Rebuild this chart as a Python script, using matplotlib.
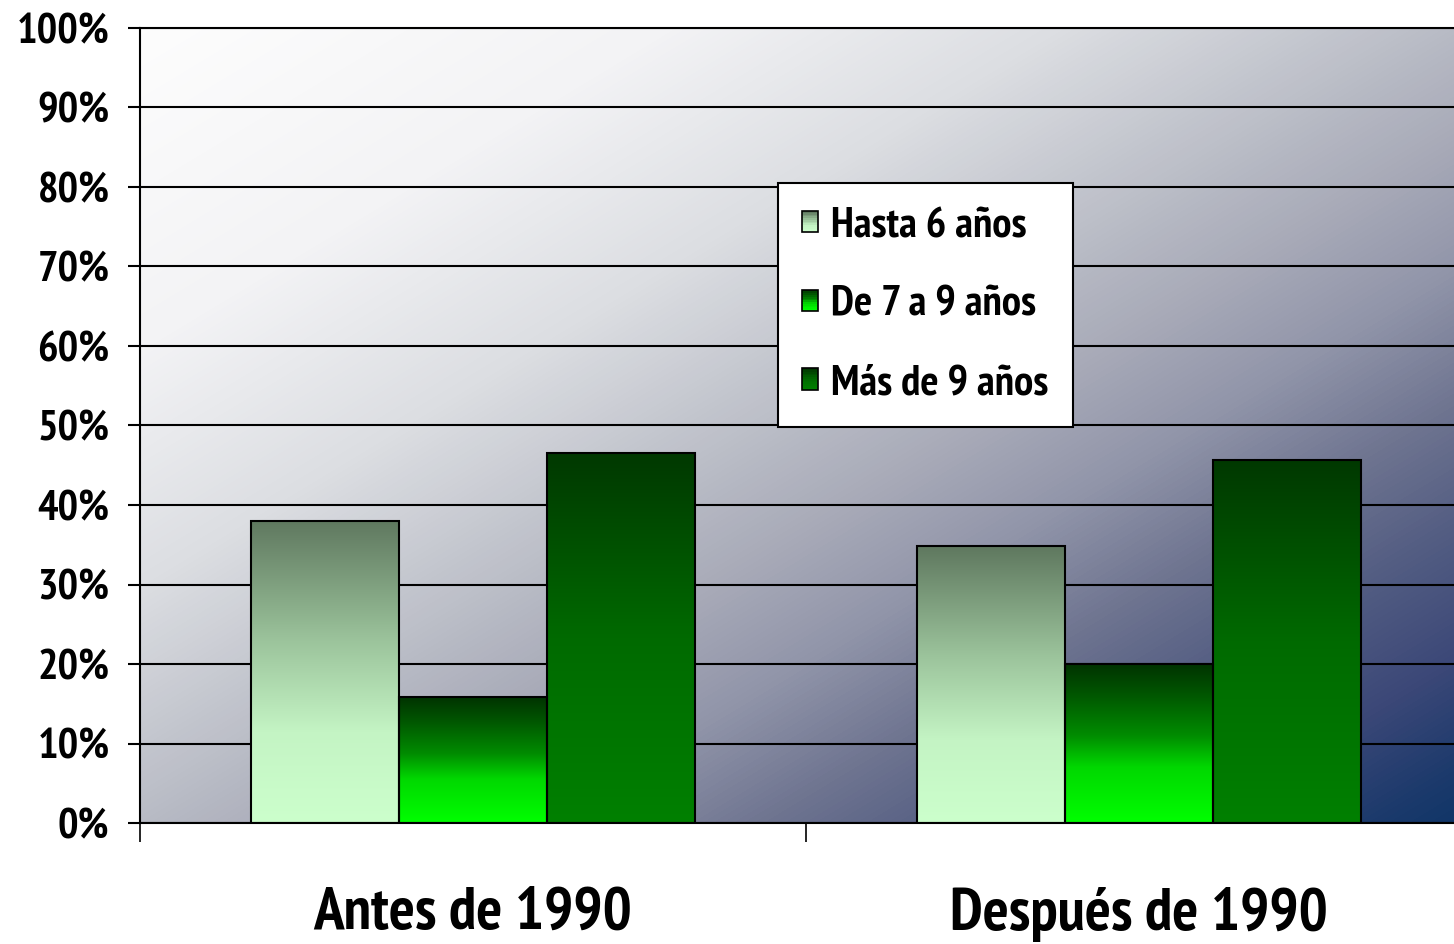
import numpy as np
import matplotlib
matplotlib.use("Agg")
import matplotlib.pyplot as plt
from matplotlib.colors import LinearSegmentedColormap
from matplotlib.patches import Rectangle, Patch
from matplotlib.legend_handler import HandlerBase

plt.rcParams['font.family'] = ['PT Sans Narrow', 'IBM Plex Sans Condensed', 'Open Sans Condensed', 'DejaVu Sans']
plt.rcParams['font.weight'] = 'bold'

# ---- data ----
categories = ['Antes de 1990', 'Después de 1990']
series_names = ['Hasta 6 años', 'De 7 a 9 años', 'Más de 9 años']
hasta_6 = [38.0, 34.8]
de_7_a_9 = [15.8, 20.0]
mas_de_9 = [46.6, 45.7]
y_ticks = [0, 10, 20, 30, 40, 50, 60, 70, 80, 90, 100]
y_tick_labels = [f'{v}%' for v in y_ticks]

# ---- styles ----
cmaps = [
    LinearSegmentedColormap.from_list('h6', [(0, '#ccffcc'), (0.3, '#c4f4c4'), (0.6, '#9cc49c'), (1.0, '#5f785f')]),
    LinearSegmentedColormap.from_list('d79', [(0, '#00ff00'), (0.35, '#00d800'), (0.55, '#008c00'), (0.8, '#005800'), (1.0, '#003300')]),
    LinearSegmentedColormap.from_list('m9', [(0, '#008000'), (0.5, '#006a00'), (1.0, '#003800')]),
]
bg_cmap = LinearSegmentedColormap.from_list('bg', [(0, '#fdfdfd'), (0.2, '#f3f3f5'), (0.35, '#dcdee2'),
                                                   (0.5, '#b8bbc5'), (0.57, '#a8aab8'), (0.65, '#9296aa'),
                                                   (0.74, '#6e7490'), (0.82, '#525c82'), (0.9, '#3c4878'),
                                                   (0.97, '#1c3a6c'), (1.0, '#123668')])

W, H = 1454, 944
fig = plt.figure(figsize=(W / 100, H / 100), dpi=100)
ax_left, ax_right, ax_top, ax_bottom = 140, 1472, 28, 823
ax = fig.add_axes([ax_left / W, 1 - ax_bottom / H, (ax_right - ax_left) / W, (ax_bottom - ax_top) / H])

# background gradient (row 0 = top)
ny, nx = 200, 300
u = np.linspace(0, 1, nx)[None, :] * (ax_right - ax_left) / (W - ax_left)
v = np.linspace(0, 1, ny)[:, None]
t = np.clip(0.5 * u + 0.5 * v, 0, 1)
ax.imshow(t, cmap=bg_cmap, vmin=0, vmax=1, extent=(0, 1, 0, 1), transform=ax.transAxes,
          origin='upper', aspect='auto', zorder=0, interpolation='bilinear')

x = np.arange(len(categories))
bw = 0.222
all_series = [hasta_6, de_7_a_9, mas_de_9]
grad = np.linspace(0, 1, 256)[:, None]
for i, (vals, cm) in enumerate(zip(all_series, cmaps)):
    bars = ax.bar(x + (i - 1) * bw, vals, width=bw, facecolor='none', edgecolor='black',
                  linewidth=1.5, zorder=3)
    for b in bars:
        x0, w_, h_ = b.get_x(), b.get_width(), b.get_height()
        im = ax.imshow(grad, cmap=cm, vmin=0, vmax=1, extent=(x0, x0 + w_, 0, h_),
                       origin='lower', aspect='auto', zorder=2, interpolation='bilinear')
        im.set_clip_path(b)

ax.set_xlim(-0.5, 1.5)
ax.set_ylim(0, 100)
ax.set_aspect('auto')

ax.set_yticks(y_ticks)
ax.set_yticklabels(y_tick_labels, fontsize=31, fontweight='bold')
ax.yaxis.grid(True, color='black', linewidth=1.5, zorder=1)
ax.set_axisbelow(True)
ax.tick_params(axis='y', length=9, width=1.5, pad=13, direction='out')

ax.set_xticks([-0.5, 0.5, 1.5])
ax.set_xticklabels(['', '', ''])
ax.tick_params(axis='x', which='major', length=14, width=1.2, direction='out')
ax.set_xticks(x, minor=True)
ax.set_xticklabels(categories, minor=True, fontsize=44, fontweight='bold')
ax.tick_params(axis='x', which='minor', length=0, pad=46)

for s in ['left', 'bottom', 'top']:
    ax.spines[s].set_linewidth(1.5)
ax.spines['right'].set_visible(False)


class GradHandler(HandlerBase):
    def __init__(self, cmap):
        super().__init__()
        self.cmap = cmap

    def create_artists(self, legend, orig_handle, xdescent, ydescent, width, height, fontsize, trans):
        arts = []
        n = 12
        for k in range(n):
            arts.append(Rectangle((-xdescent, -ydescent + k * height / n), width, height / n,
                                  facecolor=self.cmap(k / (n - 1)), linewidth=0, transform=trans))
        arts.append(Rectangle((-xdescent, -ydescent), width, height, fill=False,
                              edgecolor='black', linewidth=1.2, transform=trans))
        return arts


proxies = [Patch(label=n) for n in series_names]
leg = ax.legend(proxies, series_names, handler_map={p: GradHandler(c) for p, c in zip(proxies, cmaps)},
                loc='upper left', bbox_to_anchor=(778 / W, 1 - 183 / H), bbox_transform=fig.transFigure,
                borderaxespad=0, fancybox=False, frameon=True, framealpha=1, edgecolor='black',
                prop={'size': 31, 'weight': 'bold'}, handlelength=0.38, handleheight=0.38,
                handletextpad=0.3, labelspacing=0.92, borderpad=0.56)
leg.get_frame().set_linewidth(1.5)
leg.set_zorder(5)

fig.savefig('out.png', dpi=100)
